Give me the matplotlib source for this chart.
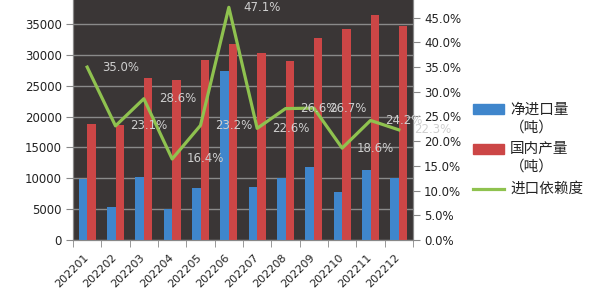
import matplotlib
matplotlib.use("Agg")
import matplotlib.pyplot as plt
from matplotlib.patches import Rectangle
from matplotlib.lines import Line2D
from matplotlib.ticker import FuncFormatter
import matplotlib.transforms as mtransforms
import numpy as np

plt.rcParams['font.family'] = ['DejaVu Sans', 'Noto Sans CJK SC']

months = ['202201', '202202', '202203', '202204', '202205', '202206',
          '202207', '202208', '202209', '202210', '202211', '202212']
net_import = [9900, 5350, 10250, 5000, 8400, 27400, 8600, 10050, 11750, 7750, 11350, 10050]
domestic = [18750, 18600, 26300, 25950, 29150, 31800, 30350, 29000, 32700, 34200, 36500, 34700]
dependency = [35.0, 23.1, 28.6, 16.4, 23.2, 47.1, 22.6, 26.6, 26.7, 18.6, 24.2, 22.3]
dep_labels = ['35.0%', '23.1%', '28.6%', '16.4%', '23.2%', '47.1%',
              '22.6%', '26.6%', '26.7%', '18.6%', '24.2%', '22.3%']
left_ticks = [0, 5000, 10000, 15000, 20000, 25000, 30000, 35000]
right_ticks = [0, 5, 10, 15, 20, 25, 30, 35, 40, 45]
legend_labels = ['净进口量\n（吨）', '国内产量\n（吨）', '进口依赖度']

W, H = 600, 297
fig = plt.figure(figsize=(6, 2.97), dpi=100)
fig.patch.set_facecolor('white')

left, right, bottom, top = 73, 413, 240, -7
ax = fig.add_axes([left / W, 1 - bottom / H, (right - left) / W, (bottom - top) / H])
ax.set_facecolor('#3a3636')

x = np.arange(len(months))
bw = 0.3
blue = '#3f86cc'
red = '#cc4646'
green = '#8fc24f'
ax.bar(x - bw / 2, net_import, width=bw, color=blue, zorder=3)
ax.bar(x + bw / 2, domestic, width=bw, color=red, zorder=3)

ax.set_xlim(-0.5, len(months) - 0.5)
ax.set_ylim(0, 40000)
ax.set_yticks(left_ticks)
ax.grid(axis='y', color='#8a8a8a', linewidth=1.0, zorder=1)
ax.set_axisbelow(True)

ax.set_xticks(x)
ax.set_xticklabels(months, rotation=45, ha='right', fontsize=8, color='#222222')
ax.tick_params(axis='x', length=0, pad=9)
shift = mtransforms.ScaledTranslation(3 / 100, 0, fig.dpi_scale_trans)
for lbl in ax.get_xticklabels():
    lbl.set_transform(lbl.get_transform() + shift)
ax.set_xticks(np.arange(-0.5, len(months), 1.0), minor=True)
ax.tick_params(axis='x', which='minor', length=5, color='#888888', direction='out')
ax.tick_params(axis='y', labelsize=8.5, length=5, color='#888888', labelcolor='#222222', pad=3)

ax.spines['top'].set_visible(False)
for s in ['left', 'bottom', 'right']:
    ax.spines[s].set_color('#888888')

ax2 = ax.twinx()
ax2.set_ylim(0, 50)
ax2.set_yticks(right_ticks)
ax2.yaxis.set_major_formatter(FuncFormatter(lambda v, p: f'{v:.1f}%'))
ax2.tick_params(axis='y', labelsize=8.5, length=5, color='#888888', labelcolor='#222222', pad=3)
ax2.spines['top'].set_visible(False)
for s in ['left', 'bottom', 'right']:
    ax2.spines[s].set_color('#888888')
ax2.plot(x, dependency, color=green, linewidth=2.3, zorder=4)
for xi, yi, lab in zip(x, dependency, dep_labels):
    ax2.annotate(lab, (xi, yi), xytext=(15, 0), textcoords='offset pixels',
                 ha='left', va='center', fontsize=8.5, color='#cfcfcf',
                 annotation_clip=False, zorder=5)

# legend (manual, to keep handle aligned with first text line)
def fx(px):
    return px / W

def fy(py):
    return 1 - py / H

fig.patches.append(Rectangle((fx(473), fy(114)), 31 / W, 10 / H, color=blue,
                             transform=fig.transFigure, figure=fig))
fig.patches.append(Rectangle((fx(473), fy(154)), 31 / W, 10 / H, color=red,
                             transform=fig.transFigure, figure=fig))
fig.lines.append(Line2D([fx(473), fx(504)], [fy(188.5), fy(188.5)], color=green,
                        linewidth=2.3, transform=fig.transFigure, figure=fig))
lab_font = ['Noto Sans CJK SC', 'DejaVu Sans']
for lab, ycen in zip(legend_labels, [110, 149, 189]):
    lines = lab.split('\n')
    for i, ln in enumerate(lines):
        fig.text(fx(510), fy(ycen + 18 * i), ln, ha='left', va='center',
                 fontsize=10.5, color='#222222', family=lab_font)

fig.savefig('out.png', dpi=100, facecolor='white')
